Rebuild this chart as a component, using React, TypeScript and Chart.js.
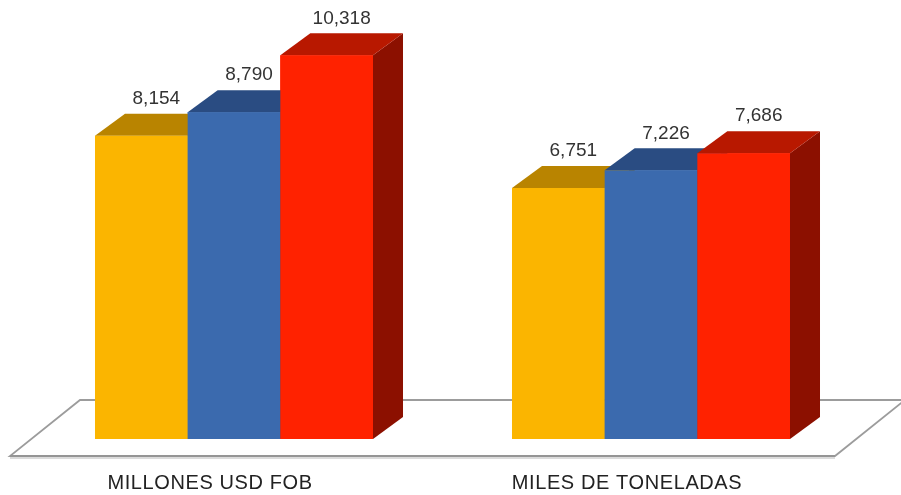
import React, { useEffect, useRef } from "react";
import { Chart, registerables } from "chart.js";

Chart.register(...registerables);

// ---- data ----
const categories = ["MILLONES USD FOB", "MILES DE TONELADAS"];
const seriesYellow = [8154, 6751];
const seriesBlue = [8790, 7226];
const seriesRed = [10318, 7686];
const seriesNames = ["Serie 1", "Serie 2", "Serie 3"];

// ---- styles ----
const frontColors = ["#FBB500", "#3B6AAE", "#FF2200"];
const topColors = ["#B98400", "#2A4C82", "#B81800"];
const sideColors = ["#8A6300", "#1F3A66", "#8C1000"];
const DX = 30;
const DY = 22;
const FONT = "'Liberation Sans', Arial, Helvetica, sans-serif";

const fmt = (v: number) => v.toLocaleString("en-US");

const floorPlugin = {
  id: "floor3d",
  beforeDatasetsDraw(chart: any) {
    const ctx = chart.ctx as CanvasRenderingContext2D;
    const { left, right } = chart.chartArea;
    const base = chart.scales.y.getPixelForValue(0);
    const fy = base + 17;
    const by = base - 39;
    const fl = left - 15.5;
    const fr = right - 24.5;
    const depth = 70;
    ctx.save();
    ctx.beginPath();
    ctx.moveTo(fl, fy);
    ctx.lineTo(fr, fy);
    ctx.lineTo(fr + depth, by);
    ctx.lineTo(fl + depth, by);
    ctx.closePath();
    ctx.fillStyle = "#ffffff";
    ctx.fill();
    ctx.strokeStyle = "#9c9c9c";
    ctx.lineWidth = 1.8;
    ctx.stroke();
    // thicker front edge with soft shadow
    ctx.beginPath();
    ctx.moveTo(fl, fy + 2);
    ctx.lineTo(fr, fy + 2);
    ctx.strokeStyle = "#cfcfcf";
    ctx.lineWidth = 1.5;
    ctx.stroke();
    ctx.beginPath();
    ctx.moveTo(fl, fy);
    ctx.lineTo(fr, fy);
    ctx.strokeStyle = "#959595";
    ctx.lineWidth = 2.2;
    ctx.stroke();
    ctx.restore();
  },
};

const bar3dPlugin = {
  id: "bar3d",
  afterDatasetsDraw(chart: any) {
    const ctx = chart.ctx as CanvasRenderingContext2D;
    const nCat = categories.length;
    const nDs = chart.data.datasets.length;
    ctx.save();
    for (let i = 0; i < nCat; i++) {
      for (let d = 0; d < nDs; d++) {
        const el = chart.getDatasetMeta(d).data[i];
        const { x, y, base, width } = el.getProps(["x", "y", "base", "width"], true);
        const l = x - width / 2;
        const r = x + width / 2;
        // side
        ctx.beginPath();
        ctx.moveTo(r, y);
        ctx.lineTo(r + DX, y - DY);
        ctx.lineTo(r + DX, base - DY);
        ctx.lineTo(r, base);
        ctx.closePath();
        ctx.fillStyle = sideColors[d];
        ctx.fill();
        // top
        ctx.beginPath();
        ctx.moveTo(l, y);
        ctx.lineTo(r, y);
        ctx.lineTo(r + DX, y - DY);
        ctx.lineTo(l + DX, y - DY);
        ctx.closePath();
        ctx.fillStyle = topColors[d];
        ctx.fill();
        // front
        ctx.fillStyle = frontColors[d];
        ctx.fillRect(l, y, width, base - y);
      }
    }
    // value labels
    ctx.fillStyle = "#333333";
    ctx.font = `19px ${FONT}`;
    ctx.textAlign = "center";
    ctx.textBaseline = "middle";
    for (let d = 0; d < nDs; d++) {
      const meta = chart.getDatasetMeta(d);
      meta.data.forEach((el: any, i: number) => {
        const { x, y } = el.getProps(["x", "y"], true);
        const v = chart.data.datasets[d].data[i] as number;
        ctx.fillText(fmt(v), x + DX / 2, y - DY - 15);
      });
    }
    // category labels
    const xs = chart.scales.x;
    const base0 = chart.scales.y.getPixelForValue(0);
    ctx.fillStyle = "#222222";
    ctx.font = `20px ${FONT}`;
    try {
      (ctx as any).letterSpacing = "0.6px";
    } catch (e) {}
    categories.forEach((c, i) => {
      ctx.fillText(c, xs.getPixelForValue(i) - 24, base0 + 44);
    });
    ctx.restore();
  },
};

export default function App() {
  const ref = useRef<HTMLCanvasElement | null>(null);
  useEffect(() => {
    if (!ref.current) return;
    const chart = new Chart(ref.current, {
      type: "bar",
      data: {
        labels: categories,
        datasets: [seriesYellow, seriesBlue, seriesRed].map((s, i) => ({
          label: seriesNames[i],
          data: s,
          backgroundColor: frontColors[i],
          borderWidth: 0,
          barPercentage: 1,
          categoryPercentage: 0.6667,
        })),
      },
      options: {
        responsive: false,
        animation: false,
        layout: { padding: { left: 25.5, right: 41.5, top: 30, bottom: 56 } },
        plugins: {
          legend: { display: false },
          tooltip: { enabled: false },
          title: { display: false },
        },
        scales: {
          x: { display: false, offset: true, grid: { display: false } },
          y: { display: false, min: 0, max: 11000, grid: { display: false } },
        },
      },
      plugins: [floorPlugin, bar3dPlugin],
    });
    return () => chart.destroy();
  }, []);
  return (
    <div style={{ position: "absolute", left: 0, top: 0, width: 901, height: 495, background: "#fff" }}>
      <canvas ref={ref} width={901} height={495} style={{ display: "block" }} />
    </div>
  );
}
